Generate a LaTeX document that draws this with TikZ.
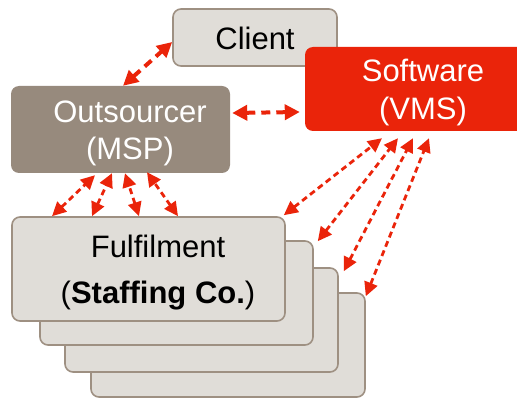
\documentclass[tikz,border=0pt]{standalone}
\usepackage{fontspec}
\setmainfont{Liberation Sans}
\usetikzlibrary{arrows.meta}
\definecolor{vred}{RGB}{234,36,10}
\definecolor{msp}{RGB}{151,138,125}
\definecolor{lightbox}{RGB}{224,221,216}
\definecolor{boxline}{RGB}{158,144,130}
\begin{document}
\begin{tikzpicture}[x=1pt,y=-1pt,
  box/.style={rectangle,rounded corners=8pt,inner sep=0pt,anchor=center},
  greybox/.style={box,fill=lightbox,draw=boxline,line width=1.6pt},
  lbl/.style={inner sep=0pt,anchor=base,font=\fontsize{31}{37}\selectfont},
  bigarrow/.style={vred,line width=4pt,dash pattern=on 9pt off 6pt,
     {Triangle[length=15pt,width=15pt]}-{Triangle[length=15pt,width=15pt]}},
  smallarrow/.style={vred,line width=2.8pt,dash pattern=on 6pt off 4pt,
     {Triangle[length=14pt,width=13.5pt]}-{Triangle[length=14pt,width=13.5pt]}}]
\useasboundingbox (0,0) rectangle (517,398);
\clip (0,0) rectangle (517,398);
% boxes
\node[greybox,minimum width=274pt,minimum height=104pt] (f4) at (228,345) {};
\node[greybox,minimum width=273pt,minimum height=104pt] (f3) at (201.5,320) {};
\node[greybox,minimum width=273pt,minimum height=104pt] (f2) at (176.5,293) {};
\node[greybox,minimum width=273pt,minimum height=104pt] (f1) at (148.5,269) {};
\node[greybox,minimum width=164pt,minimum height=57pt] (client) at (255,37.5) {};
\node[box,fill=msp,minimum width=219pt,minimum height=87pt] (msp) at (120.5,129.5) {};
\node[box,fill=vred,minimum width=236pt,minimum height=84pt] (vms) at (423,89) {};
% texts
\node[lbl] (tclient) at (255,50) {Client};
\node[lbl,white] (tmsp1) at (130,123) {Outsourcer};
\node[lbl,white] (tmsp2) at (130,160) {(MSP)};
\node[lbl,white] (tvms1) at (423,82) {Software};
\node[lbl,white] (tvms2) at (423,120) {(VMS)};
\node[lbl] (tf1) at (158,258) {Fulfilment};
\node[lbl] (tf2) at (158,303) {(\textbf{Staffing Co.})};
% top arrows
\draw[bigarrow] ([xshift=2.5pt]msp.north) -- ([yshift=-4.5pt]client.west);
\draw[bigarrow] ([xshift=2pt,yshift=16.5pt]msp.east) -- ([xshift=-5pt,yshift=-23pt]vms.west);
% msp - fulfilment
\draw[smallarrow] ([xshift=-96.5pt]f1.north) -- ([xshift=-25.5pt,yshift=-2pt]msp.south);
\draw[smallarrow] ([xshift=-56.5pt]f1.north) -- ([xshift=-8.5pt]msp.south);
\draw[smallarrow] ([xshift=-9.5pt]f1.north) -- ([xshift=4.5pt]msp.south);
\draw[smallarrow] ([xshift=29.5pt]f1.north) -- ([xshift=26.5pt,yshift=1pt]msp.south);
% vms - fulfilment
\draw[smallarrow] ([xshift=-2pt,yshift=1pt]f1.north east) -- ([xshift=-41pt,yshift=-7pt]vms.south);
\draw[smallarrow] ([xshift=4pt,yshift=-1pt]f2.north east) -- ([xshift=-25pt,yshift=-7pt]vms.south);
\draw[smallarrow] ([xshift=5pt,yshift=-4pt]f3.north east) -- ([xshift=-10pt,yshift=-7pt]vms.south);
\draw[smallarrow] ([xshift=0pt,yshift=-4pt]f4.north east) -- ([xshift=6pt,yshift=-7pt]vms.south);
\end{tikzpicture}
\end{document}
